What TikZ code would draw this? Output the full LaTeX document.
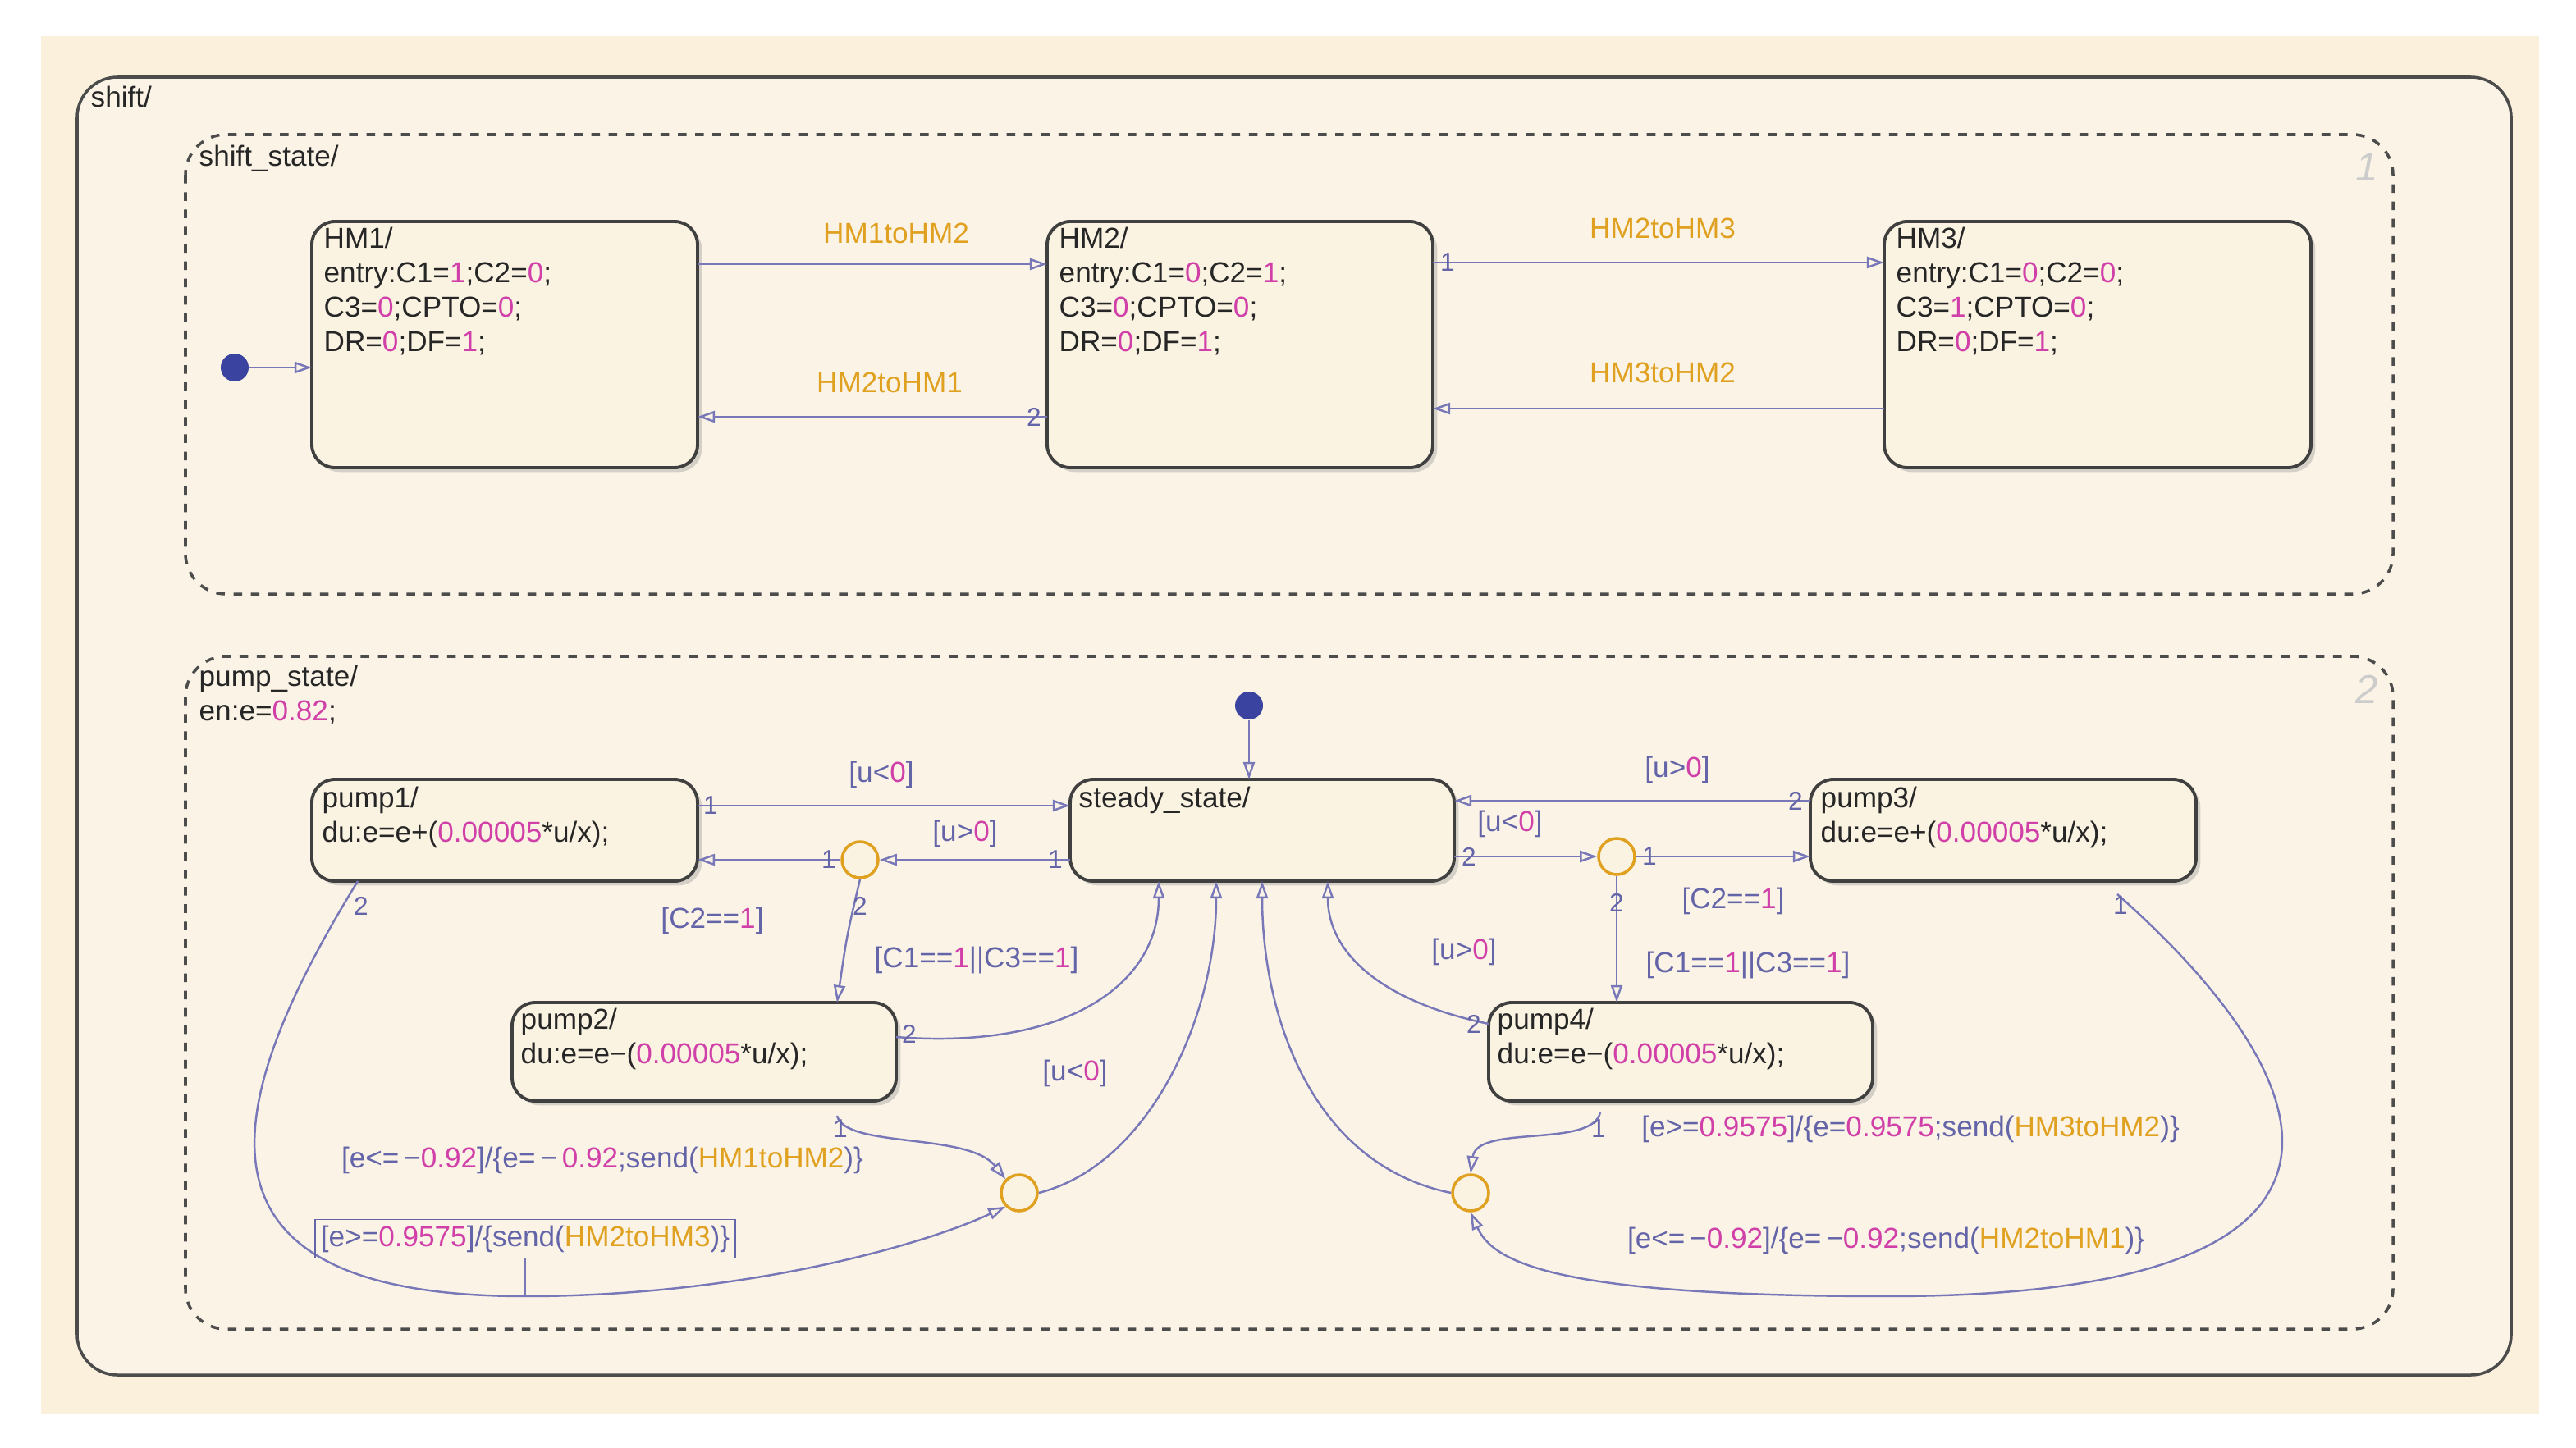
\documentclass[tikz,border=0pt]{standalone}
\usepackage{fontspec}
\setmainfont{Liberation Sans}
\usetikzlibrary{arrows.meta,shadows}
\definecolor{mg}{HTML}{D040A8}
\definecolor{og}{HTML}{E0A020}
\definecolor{lb}{HTML}{6464A8}
\definecolor{cn}{HTML}{7878B8}
\definecolor{cream}{HTML}{FAF0DC}
\definecolor{stfill}{HTML}{FBF3E2}
\definecolor{dot}{HTML}{3A44A0}
\newcommand{\mg}[1]{\textcolor{mg}{#1}}
\newcommand{\og}[1]{\textcolor{og}{#1}}
\begin{document}
\begin{tikzpicture}[x=0.02cm,y=-0.02cm,
  every node/.style={font=\fontsize{10}{12}\selectfont},
  st/.style={draw=black!75,line width=1.1pt,rounded corners=8pt,fill=stfill,
    drop shadow={shadow xshift=1.5pt,shadow yshift=-1.5pt,opacity=0.3}},
  box/.style={draw=black!70,line width=1pt,rounded corners=14pt},
  dbox/.style={draw=black!70,line width=1pt,dashed,rounded corners=14pt},
  tr/.style={draw=cn,line width=0.7pt,-{Triangle[open,length=6pt,width=4pt]}},
  ln/.style={draw=cn,line width=0.7pt},
  jn/.style={circle,draw=og,line width=1pt,minimum size=0.44cm,inner sep=0pt,fill=stfill},
  lab/.style={text=lb,inner sep=1pt},
  num/.style={text=lb,inner sep=1pt,font=\fontsize{9}{10}\selectfont},
  txt/.style={align=left,anchor=north west,inner sep=0pt,text=black!85}]
\useasboundingbox (0,0) rectangle (1569.5,882);
\fill[white] (0,0) rectangle (1569.5,882);
\fill[cream] (25,22) rectangle (1547,862);
\draw[box,fill=cream!70!white] (47,47) rectangle (1530,838);
\node[txt] at (55,52) {shift/};
\draw[dbox] (113,82) rectangle (1458,362);
\node[txt] at (121,88) {shift\_state/};
\node[text=black!20,font=\fontsize{14}{14}\selectfont\itshape] at (1442,102) {1};
\draw[dbox] (113,400) rectangle (1458,810);
\node[txt] at (121,405) {pump\_state/\\en:e=\mg{0.82};};
\node[text=black!20,font=\fontsize{14}{14}\selectfont\itshape] at (1442,420) {2};
% top states
\draw[st] (190,135) rectangle (425,285); \coordinate (HM1) at (307,210);
\node[txt] at (197,138) {HM1/\\entry:C1=\mg{1};C2=\mg{0};\\C3=\mg{0};CPTO=\mg{0};\\DR=\mg{0};DF=\mg{1};};
\draw[st] (638,135) rectangle (873,285); \coordinate (HM2) at (755,210);
\node[txt] at (645,138) {HM2/\\entry:C1=\mg{0};C2=\mg{1};\\C3=\mg{0};CPTO=\mg{0};\\DR=\mg{0};DF=\mg{1};};
\draw[st] (1148,135) rectangle (1408,285); \coordinate (HM3) at (1278,210);
\node[txt] at (1155,138) {HM3/\\entry:C1=\mg{0};C2=\mg{0};\\C3=\mg{1};CPTO=\mg{0};\\DR=\mg{0};DF=\mg{1};};
\node[circle,fill=dot,minimum size=0.34cm,inner sep=0pt] (d1) at (143,224) {};
\coordinate (h1l) at (190,224);
\draw[tr] (d1) -- (h1l);
\coordinate (a1) at (425,161); \coordinate (a2) at (638,161);
\draw[tr] (a1) -- (a2); \node[text=og] at (546,142) {HM1toHM2};
\coordinate (b1) at (638,254); \coordinate (b2) at (425,254);
\draw[tr] (b1) -- (b2); \node[text=og] at (542,233) {HM2toHM1};
\node[num] at (630,254) {2};
\coordinate (c1) at (873,160); \coordinate (c2) at (1148,160);
\draw[tr] (c1) -- (c2); \node[text=og] at (1013,139) {HM2toHM3};
\node[num] at (882,160) {1};
\coordinate (e1) at (1148,249); \coordinate (e2) at (873,249);
\draw[tr] (e1) -- (e2); \node[text=og] at (1013,227) {HM3toHM2};
% bottom states
\draw[st] (190,475) rectangle (425,537); \coordinate (P1) at (307,506);
\node[txt] at (196,479) {pump1/\\du:e=e+(\mg{0.00005}*u/x);};
\draw[st] (652,475) rectangle (886,537); \coordinate (SS) at (769,506);
\node[txt] at (657,479) {steady\_state/};
\draw[st] (1103,475) rectangle (1338,537); \coordinate (P3) at (1220,506);
\node[txt] at (1109,479) {pump3/\\du:e=e+(\mg{0.00005}*u/x);};
\draw[st] (312,611) rectangle (546,671); \coordinate (P2) at (429,641);
\node[txt] at (317,614) {pump2/\\du:e=e−(\mg{0.00005}*u/x);};
\draw[st] (907,611) rectangle (1141,671); \coordinate (P4) at (1024,641);
\node[txt] at (912,614) {pump4/\\du:e=e−(\mg{0.00005}*u/x);};
\node[jn] (j1) at (524,524) {};
\node[jn] (j2) at (985,522) {};
\node[jn] (j3) at (621,727) {};
\node[jn] (j4) at (896,727) {};
\node[circle,fill=dot,minimum size=0.34cm,inner sep=0pt] (d2) at (761,430) {};
\coordinate (sst) at (761,475);
\draw[tr] (d2) -- (sst);
% pump1 <-> steady
\coordinate (p1r1) at (425,491); \coordinate (ssl1) at (652,491);
\draw[tr] (p1r1) -- (ssl1); \node[num] at (433,491) {1};
\node[lab] at (537,472) {[u<\mg{0}]};
\coordinate (ssl2) at (652,524); \coordinate (p1r2) at (425,524);
\draw[tr] (ssl2) -- (j1); \node[num] at (643,524) {1};
\node[lab] at (588,508) {[u>\mg{0}]};
\draw[tr] (j1) -- (p1r2); \node[num] at (505,524) {1};
\node[lab] at (434,561) {[C2==\mg{1}]};
\coordinate (p2t) at (510,611);
\draw[tr] (j1.south) .. controls (516,570) .. (p2t); \node[num] at (524,552) {2};
\node[lab] at (595,585) {[C1==\mg{1}||C3==\mg{1}]};
% pump2 -> steady
\coordinate (p2r) at (546,632); \coordinate (ssb1) at (706,537);
\draw[tr] (p2r) .. controls (650,640) and (706,600) .. (ssb1); \node[num] at (554,630) {2};
\node[lab] at (655,654) {[u<\mg{0}]};
% pump2 -> j3
\coordinate (p2b) at (510,680);
\draw[tr] (p2b) .. controls (515,700) and (590,690) .. (j3.north west); \node[num] at (512,688) {1};
\node[lab] at (367,707) {[e<=\,−\mg{0.92}]/\{e=\,−\,\mg{0.92};send(\og{HM1toHM2})\}};
% pump1 -> j3
\coordinate (p1b) at (218,537);
\draw[tr] (p1b) .. controls (130,680) and (110,790) .. (320,790) .. controls (450,790) and (560,760) .. (j3.south west);
\node[num] at (220,552) {2};
\node[lab,draw=lb,inner sep=2pt] (lbx) at (320,755) {[e>=\mg{0.9575}]/\{send(\og{HM2toHM3})\}};
\coordinate (lbc) at (320,790);
\draw[ln] (lbx.south) -- (lbc);
% j3 -> steady
\coordinate (ssb2) at (741,537);
\draw[tr] (j3.east) .. controls (700,710) and (741,620) .. (ssb2);
% j4 -> steady
\coordinate (ssb3) at (769,537);
\draw[tr] (j4.west) .. controls (800,710) and (769,620) .. (ssb3);
% pump4 -> steady
\coordinate (p4l) at (907,624); \coordinate (ssb4) at (809,537);
\draw[tr] (p4l) .. controls (840,610) and (809,580) .. (ssb4); \node[num] at (898,624) {2};
\node[lab] at (892,580) {[u>\mg{0}]};
% pump3 <-> steady
\coordinate (p3l1) at (1103,488); \coordinate (ssr1) at (886,488);
\draw[tr] (p3l1) -- (ssr1); \node[num] at (1094,488) {2};
\node[lab] at (1022,469) {[u>\mg{0}]};
\node[lab] at (920,502) {[u<\mg{0}]};
\coordinate (ssr2) at (886,522); \coordinate (p3l2) at (1103,522);
\draw[tr] (ssr2) -- (j2); \node[num] at (895,522) {2};
\draw[tr] (j2) -- (p3l2); \node[num] at (1005,522) {1};
\node[lab] at (1056,549) {[C2==\mg{1}]};
\coordinate (p4t) at (985,611);
\draw[tr] (j2.south) -- (p4t); \node[num] at (985,550) {2};
\node[lab] at (1065,588) {[C1==\mg{1}||C3==\mg{1}]};
% pump4 -> j4
\coordinate (p4b) at (975,678);
\draw[tr] (p4b) .. controls (970,700) and (900,685) .. (j4.north); \node[num] at (974,688) {1};
\node[lab] at (1164,688) {[e>=\mg{0.9575}]/\{e=\mg{0.9575};send(\og{HM3toHM2})\}};
% pump3 -> j4
\coordinate (p3b) at (1290,545);
\draw[tr] (p3b) .. controls (1420,660) and (1470,790) .. (1150,790) .. controls (950,790) and (910,770) .. (j4.south);
\node[num] at (1292,552) {1};
\node[lab] at (1149,756) {[e<=\,−\mg{0.92}]/\{e=\,−\mg{0.92};send(\og{HM2toHM1})\}};
\end{tikzpicture}
\end{document}
